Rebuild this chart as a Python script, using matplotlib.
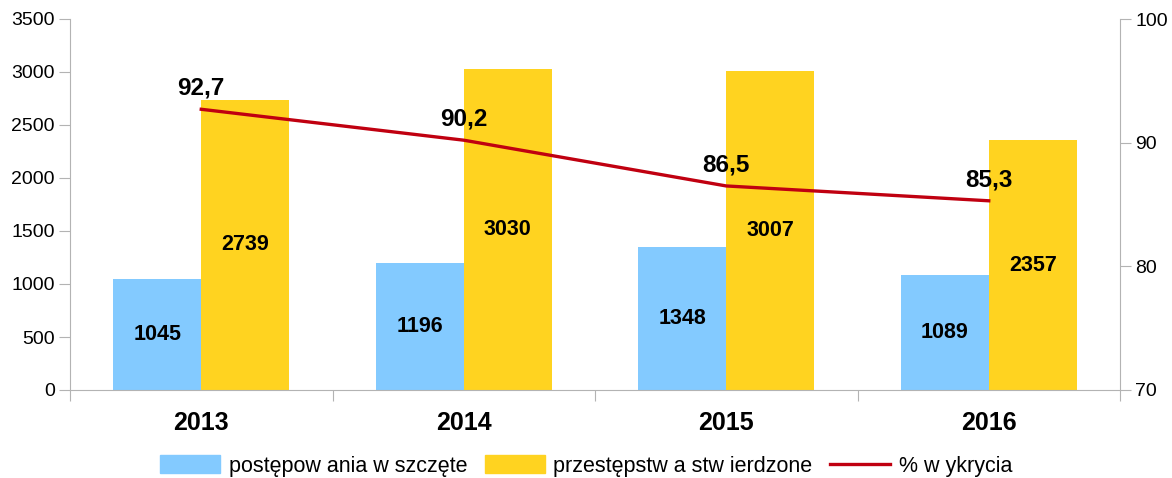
import matplotlib
matplotlib.use("Agg")
from matplotlib import pyplot as plt
from matplotlib.patches import Patch
from matplotlib.lines import Line2D
import numpy as np

plt.rcParams['font.family'] = ['Liberation Sans', 'DejaVu Sans']

years = ['2013', '2014', '2015', '2016']
wszczete = [1045, 1196, 1348, 1089]
stwierdzone = [2739, 3030, 3007, 2357]
wykrycia = [92.7, 90.2, 86.5, 85.3]
wykrycia_txt = ['92,7', '90,2', '86,5', '85,3']

blue = '#83CAFF'
yellow = '#FFD320'
red = '#C00010'
gray = '#b3b3b3'

W, H = 1172, 478
fig = plt.figure(figsize=(W / 100, H / 100), dpi=100)
ax = fig.add_axes([70 / W, (H - 390) / H, (1120 - 70) / W, (390 - 19) / H])
ax2 = ax.twinx()

x = np.arange(len(years))
bw = 0.335
ax.bar(x - bw / 2, wszczete, bw, color=blue, zorder=2)
ax.bar(x + bw / 2, stwierdzone, bw, color=yellow, zorder=2)

for i in range(len(years)):
    ax.text(x[i] - bw / 2, wszczete[i] / 2, str(wszczete[i]), ha='center', va='center',
            fontsize=15.5, fontweight='bold')
    ax.text(x[i] + bw / 2, stwierdzone[i] / 2, str(stwierdzone[i]), ha='center', va='center',
            fontsize=15.5, fontweight='bold')

ax.set_xlim(-0.5, len(years) - 0.5)
ax.set_ylim(0, 3500)
ax.set_yticks(np.arange(0, 3501, 500))
ax.set_xticks(np.arange(-0.5, len(years)), minor=False)
ax.set_xticklabels([])
ax.set_xticks(x, minor=True)
ax.set_xticklabels(years, minor=True, fontsize=18, fontweight='bold')
ax.tick_params(axis='x', which='minor', length=0, pad=15)
ax.tick_params(axis='x', which='major', length=8, color=gray)
ax.tick_params(axis='y', length=8, color=gray, labelsize=14, pad=3)

ax2.plot(x, wykrycia, color=red, lw=2.4, zorder=3)
for i in range(len(years)):
    ax2.annotate(wykrycia_txt[i], (x[i], wykrycia[i]), xytext=(0, 7), textcoords='offset points',
                 ha='center', va='bottom', fontsize=17.5, fontweight='bold')
ax2.set_ylim(70, 100)
ax2.set_yticks([70, 80, 90, 100])
ax2.tick_params(axis='y', length=8, color=gray, labelsize=14, pad=3)

for a in (ax, ax2):
    for s in a.spines.values():
        s.set_visible(False)
ax.spines['left'].set_visible(True)
ax.spines['left'].set_color(gray)
ax.spines['bottom'].set_visible(True)
ax.spines['bottom'].set_color(gray)
ax2.spines['right'].set_visible(True)
ax2.spines['right'].set_color(gray)

handles = [Patch(color=blue), Patch(color=yellow), Line2D([], [], color=red, lw=2.4)]
labels = ['postępow ania w szczęte', 'przestępstw a stw ierdzone', '% w ykrycia']
fig.legend(handles, labels, loc='center', bbox_to_anchor=(0.5, (H - 466) / H), ncol=3,
           frameon=False, fontsize=15.5, handlelength=2.8, handleheight=0.85,
           columnspacing=0.8, handletextpad=0.4)

fig.savefig('out.png', dpi=100)
